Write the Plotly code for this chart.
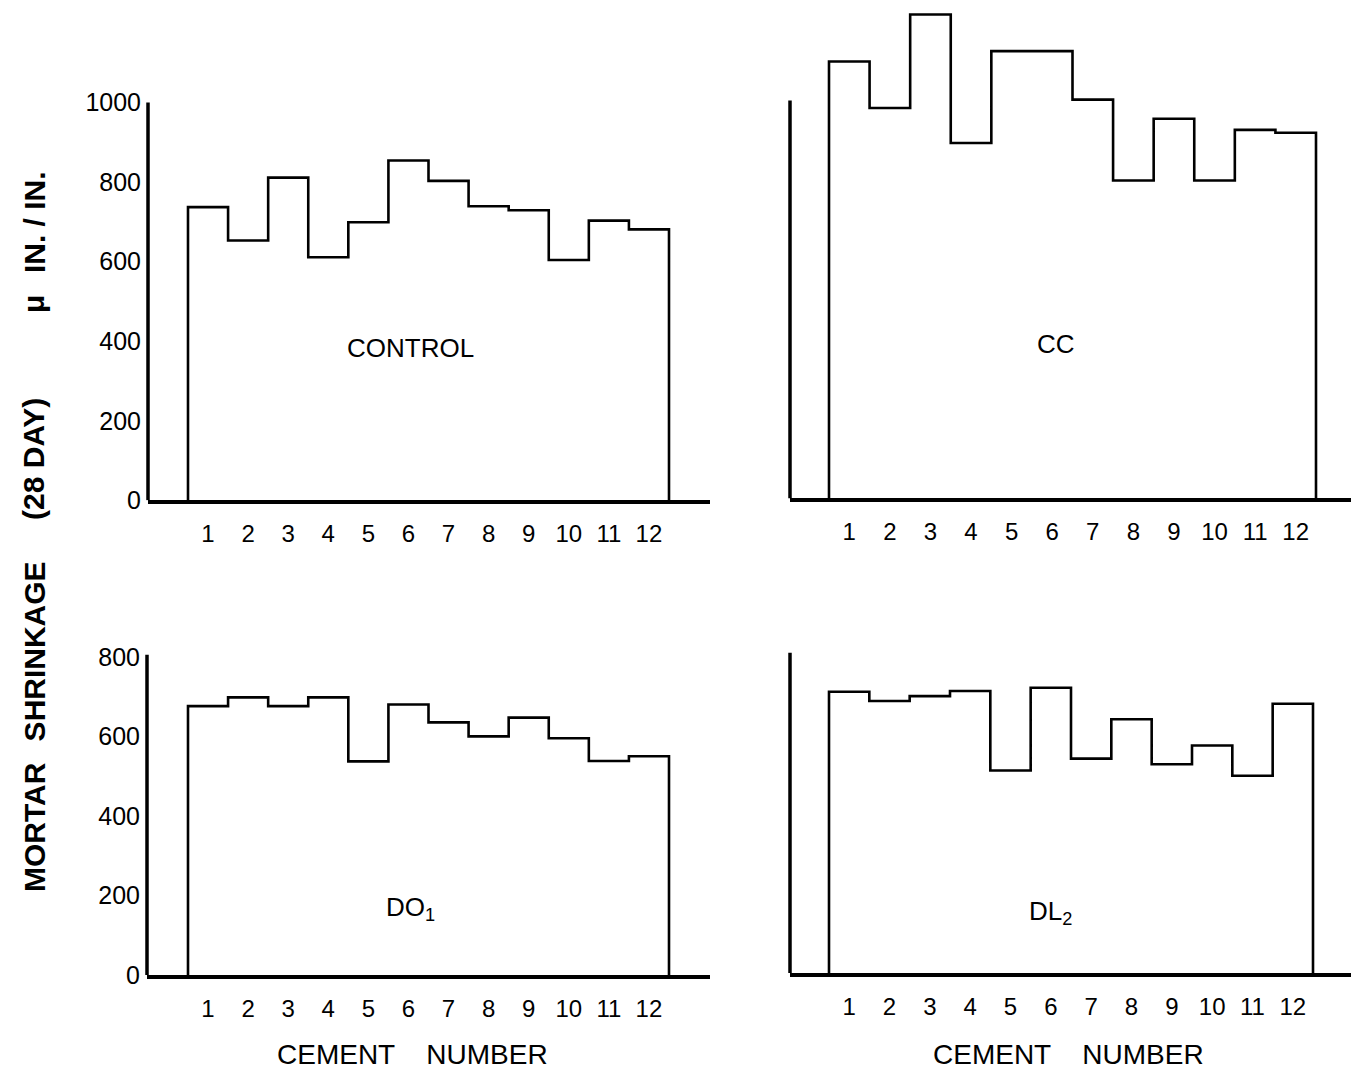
import plotly.graph_objects as go

W, H = 1351, 1072

cement = list(range(1, 13))
control = [737, 653, 811, 611, 699, 854, 803, 739, 729, 604, 703, 681]
cc = [1098, 981, 1216, 893, 1124, 1124, 1002, 799, 954, 799, 926, 919]
do1 = [676, 698, 676, 698, 537, 680, 635, 600, 647, 595, 538, 550]
dl2 = [707, 684, 696, 709, 509, 717, 539, 638, 525, 572, 496, 677]

top_ticks = [0, 200, 400, 600, 800, 1000]
bottom_ticks = [0, 200, 400, 600, 800]
x_ticks = cement
x_ticktext = [str(c) for c in cement]

panels = [
    dict(vals=control, label="CONTROL", lx=6.05, ly=383, left=148, b0=188, b12=669, right=710,
         base=507, top=2, ytop=1000, ticks=top_ticks),
    dict(vals=cc, label="CC", lx=6.1, ly=388, left=790, b0=829, b12=1316, right=1351,
         base=505, top=0, ytop=1000, ticks=None),
    dict(vals=do1, label="DO<sub>1</sub>", lx=6.05, ly=168, left=147, b0=188, b12=669, right=710,
         base=988, top=640, ytop=805, ticks=bottom_ticks),
    dict(vals=dl2, label="DL<sub>2</sub>", lx=6.0, ly=152, left=790, b0=829, b12=1313, right=1351,
         base=986, top=640, ytop=805, ticks=None),
]

SCALE = 0.4032  # pixels per micro-strain unit
FONT = "Liberation Sans"

fig = go.Figure()
layout = {}
shapes = []
annotations = []

for i, p in enumerate(panels):
    n = "" if i == 0 else str(i + 1)
    xa, ya = "x" + n, "y" + n
    pxu = (p["b12"] - p["b0"]) / 12.0
    xr0 = 0.5 - (p["b0"] - p["left"]) / pxu
    xr1 = 12.5 + (p["right"] - p["b12"]) / pxu
    yr1 = (p["base"] - p["top"]) / SCALE

    vals = p["vals"]
    xs = [0.5] + [c - 0.5 for c in cement] + [12.5, 12.5]
    ys = [0] + vals + [vals[-1], 0]
    fig.add_trace(go.Scatter(x=xs, y=ys, mode="lines", line=dict(color="black", width=2.6, shape="hv"),
                             xaxis=xa, yaxis=ya, showlegend=False, hoverinfo="skip"))

    layout["xaxis" + n] = dict(
        domain=[p["left"] / W, min(1.0, p["right"] / W)], range=[xr0, xr1], anchor=ya,
        showline=True, linecolor="black", linewidth=3.5, showgrid=False, zeroline=False,
        tickmode="array", tickvals=x_ticks, ticktext=x_ticktext, ticks="",
        tickfont=dict(family=FONT, size=24, color="black"), ticklabelstandoff=9,
    )
    yaxis = dict(
        domain=[(H - p["base"]) / H, (H - p["top"]) / H], range=[0, yr1], anchor=xa,
        showline=False, showgrid=False, zeroline=False, ticks="",
    )
    if p["ticks"]:
        yaxis.update(tickmode="array", tickvals=p["ticks"], ticktext=[str(t) for t in p["ticks"]],
                     tickfont=dict(family=FONT, size=25, color="black"), ticklabelstandoff=6)
    else:
        yaxis.update(showticklabels=False)
    layout["yaxis" + n] = yaxis

    shapes.append(dict(type="line", xref=xa + " domain", yref=ya, x0=0, x1=0, y0=0, y1=p["ytop"],
                       line=dict(color="black", width=3.5)))
    annotations.append(dict(x=p["lx"], y=p["ly"], xref=xa, yref=ya, text=p["label"], showarrow=False,
                            xanchor="center", yanchor="middle",
                            font=dict(family=FONT, size=26, color="black")))

# x-axis titles
for cx in (412, 1068):
    annotations.append(dict(x=cx / W, y=0, xref="paper", yref="paper", yshift=-14,
                            text="CEMENT\u00a0\u00a0\u00a0\u00a0NUMBER", showarrow=False,
                            xanchor="center", yanchor="bottom",
                            font=dict(family=FONT, size=28, color="black")))

# y-axis title pieces (rotated)
ytitle = [("IN. / IN.", 225), ("\u03bc", 308), ("(28\u00a0DAY)", 465), ("SHRINKAGE", 660), ("MORTAR", 838)]
for txt, cy in ytitle:
    annotations.append(dict(x=34 / W, y=(H - cy) / H, xref="paper", yref="paper", text="<b>" + txt + "</b>",
                            textangle=-90, showarrow=False, xanchor="center", yanchor="middle",
                            font=dict(family=FONT, size=30, color="black")))

fig.update_layout(
    width=W, height=H, margin=dict(l=0, r=0, t=0, b=0),
    paper_bgcolor="white", plot_bgcolor="white",
    shapes=shapes, annotations=annotations, **layout,
)

fig.write_html("out.html")
